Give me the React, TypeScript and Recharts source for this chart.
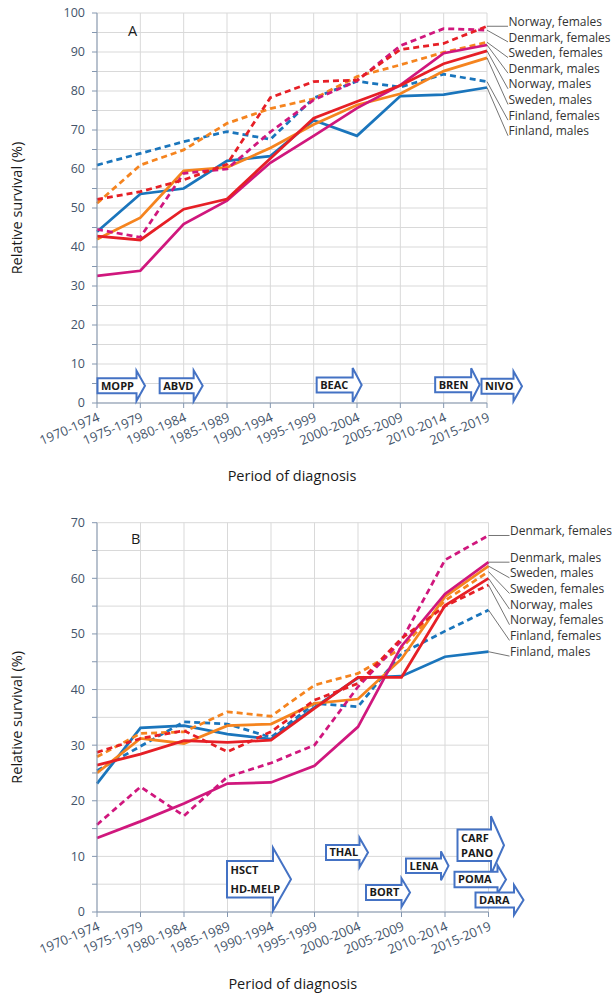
import { LineChart, Line, XAxis, YAxis, CartesianGrid, ReferenceDot } from 'recharts'

const periods = [
  '1970-1974', '1975-1979', '1980-1984', '1985-1989', '1990-1994',
  '1995-1999', '2000-2004', '2005-2009', '2010-2014', '2015-2019',
]

// Panel A
const aDenmarkMales = [32.6, 33.9, 45.9, 51.9, 61.6, 68.5, 75.6, 81.5, 89.7, 91.8]
const aDenmarkFemales = [44.5, 42.5, 58.9, 60.0, 69.5, 77.7, 82.6, 91.6, 96.0, 95.6]
const aFinlandMales = [43.9, 53.6, 55.0, 62.1, 63.3, 72.5, 68.5, 78.7, 79.1, 80.9]
const aFinlandFemales = [61.0, 64.0, 67.0, 69.6, 67.6, 78.2, 82.5, 81.0, 84.3, 82.4]
const aNorwayMales = [42.8, 41.8, 49.7, 52.3, 62.7, 73.0, 77.3, 81.4, 87.0, 90.3]
const aNorwayFemales = [52.2, 54.2, 57.2, 61.2, 78.3, 82.4, 82.8, 90.6, 92.2, 96.6]
const aSwedenMales = [42.0, 47.5, 59.5, 60.4, 65.4, 71.4, 76.4, 79.3, 85.1, 88.5]
const aSwedenFemales = [51.2, 61.0, 64.9, 71.7, 75.5, 78.0, 83.7, 86.7, 89.9, 92.5]
const aTicks = [0, 5, 10, 15, 20, 25, 30, 35, 40, 45, 50, 55, 60, 65, 70, 75, 80, 85, 90, 95, 100]

// Panel B
const bDenmarkMales = [13.3, 16.3, 19.5, 23.1, 23.3, 26.3, 33.3, 47.8, 57.2, 62.9]
const bDenmarkFemales = [15.7, 22.5, 17.3, 24.3, 26.8, 30.0, 40.5, 48.8, 63.3, 67.7]
const bFinlandMales = [23.1, 33.1, 33.5, 32.0, 31.1, 36.8, 42.1, 42.4, 45.9, 46.8]
const bFinlandFemales = [25.4, 29.8, 34.2, 33.8, 31.4, 37.5, 36.9, 46.5, 50.5, 54.3]
const bNorwayMales = [26.4, 28.4, 30.8, 30.5, 30.9, 36.6, 42.2, 42.2, 55.1, 60.0]
const bNorwayFemales = [28.7, 31.2, 32.6, 28.8, 32.4, 38.1, 41.1, 49.2, 55.0, 58.8]
const bSwedenMales = [25.0, 31.2, 30.3, 33.5, 33.8, 37.5, 38.3, 45.5, 56.7, 62.2]
const bSwedenFemales = [27.9, 32.1, 32.4, 36.0, 35.2, 40.8, 42.9, 47.4, 56.0, 61.2]
const bTicks = [0, 5, 10, 15, 20, 25, 30, 35, 40, 45, 50, 55, 60, 65, 70]

const W = 612
const H = 498
const AXIS = '#8497b0'
const TICK = '#44546a'
const GRID = '#d9d9d9'
const ARROW = '#4472c4'

const SERIES = [
  { key: 'fiM', name: 'Finland, males', color: '#1a75bc', dashed: false },
  { key: 'fiF', name: 'Finland, females', color: '#1a75bc', dashed: true },
  { key: 'seM', name: 'Sweden, males', color: '#f5841f', dashed: false },
  { key: 'seF', name: 'Sweden, females', color: '#f5841f', dashed: true },
  { key: 'dkM', name: 'Denmark, males', color: '#d0177d', dashed: false },
  { key: 'dkF', name: 'Denmark, females', color: '#d0177d', dashed: true },
  { key: 'noM', name: 'Norway, males', color: '#e61f26', dashed: false },
  { key: 'noF', name: 'Norway, females', color: '#e61f26', dashed: true },
]

const aValues: Record<string, number[]> = {
  dkM: aDenmarkMales, dkF: aDenmarkFemales, fiM: aFinlandMales, fiF: aFinlandFemales,
  noM: aNorwayMales, noF: aNorwayFemales, seM: aSwedenMales, seF: aSwedenFemales,
}
const bValues: Record<string, number[]> = {
  dkM: bDenmarkMales, dkF: bDenmarkFemales, fiM: bFinlandMales, fiF: bFinlandFemales,
  noM: bNorwayMales, noF: bNorwayFemales, seM: bSwedenMales, seF: bSwedenFemales,
}

// treatment arrows: anchored to a period + y value, drawn in px around that anchor
type Arrow = { lines: string[]; at: string; y: number; dx: number; w: number; bh: number; hh: number; hl: number; gap?: number }

const aArrows: Arrow[] = [
  { lines: ['MOPP'], at: '1970-1974', y: 4.4, dx: 0.5, w: 39, bh: 15, hh: 30, hl: 8.5 },
  { lines: ['ABVD'], at: '1980-1984', y: 4.4, dx: -24, w: 34, bh: 15, hh: 31, hl: 9 },
  { lines: ['BEAC'], at: '1995-1999', y: 4.6, dx: 3, w: 36, bh: 15, hh: 34, hl: 9 },
  { lines: ['BREN'], at: '2010-2014', y: 4.7, dx: -8.5, w: 36, bh: 15, hh: 33, hl: 8.5 },
  { lines: ['NIVO'], at: '2015-2019', y: 4.3, dx: -5.5, w: 32, bh: 15, hh: 30, hl: 8.5 },
]

const bArrows: Arrow[] = [
  { lines: ['HSCT', 'HD-MELP'], at: '1985-1989', y: 5.9, dx: -0.5, w: 46, bh: 36.5, hh: 63, hl: 18, gap: 19 },
  { lines: ['THAL'], at: '1995-1999', y: 10.7, dx: 11.5, w: 33.5, bh: 15, hh: 29.5, hl: 8.5 },
  { lines: ['BORT'], at: '2005-2009', y: 3.5, dx: -35.5, w: 35.5, bh: 15, hh: 28.5, hl: 8.5 },
  { lines: ['LENA'], at: '2005-2009', y: 8.3, dx: 4.5, w: 35, bh: 14.5, hh: 29, hl: 7.5 },
  { lines: ['CARF', 'PANO'], at: '2010-2014', y: 12.0, dx: 12.5, w: 33.5, bh: 31.5, hh: 58, hl: 13, gap: 15 },
  { lines: ['POMA'], at: '2010-2014', y: 5.85, dx: 9.5, w: 43, bh: 15.5, hh: 28.5, hl: 8.5 },
  { lines: ['DARA'], at: '2015-2019', y: 2.15, dx: -13, w: 38.5, bh: 15, hh: 30, hl: 9.5 },
]

function arrowShape(a: Arrow) {
  return (props: any) => {
    const { cx, cy } = props
    if (cx == null || cy == null) return <g />
    const x0 = cx + a.dx
    const x1 = x0 + a.w
    const d = [
      `M${x0},${cy - a.bh / 2}`, `L${x1},${cy - a.bh / 2}`, `L${x1},${cy - a.hh / 2}`,
      `L${x1 + a.hl},${cy}`, `L${x1},${cy + a.hh / 2}`, `L${x1},${cy + a.bh / 2}`,
      `L${x0},${cy + a.bh / 2}`, 'Z',
    ].join(' ')
    const gap = a.gap ?? 0
    const start = cy - ((a.lines.length - 1) * gap) / 2
    return (
      <g>
        <path d={d} fill="#fff" stroke={ARROW} strokeWidth={2} strokeLinejoin="miter" />
        {a.lines.map((t, i) => (
          <text key={t} x={x0 + 3.5} y={start + i * gap} dy="0.36em" fontSize={11} fontWeight={700} fill="#1a1a1a">
            {t}
          </text>
        ))}
      </g>
    )
  }
}

interface PanelProps {
  letter: string
  values: Record<string, number[]>
  yMax: number
  ticks: number[]
  top: number
  right: number
  axisHeight: number
  titleOffset: number
  arrows: Arrow[]
}

function Panel({ letter, values, yMax, ticks, top, right, axisHeight, titleOffset, arrows }: PanelProps) {
  const data = periods.map((p, i) => {
    const row: Record<string, string | number> = { period: p }
    SERIES.forEach((s) => { row[s.key] = values[s.key][i] })
    return row
  })

  // end-label stacking, like the callouts in the original
  const last = periods.length - 1
  const plotBottom = H - axisHeight
  const pxPerUnit = (plotBottom - top) / yMax
  const order = [...SERIES].sort((a, b) => values[b.key][last] - values[a.key][last])
  const slots: Record<string, number> = {}
  let prev = -Infinity
  order.forEach((s) => {
    const want = plotBottom - values[s.key][last] * pxPerUnit - 4.7
    const slot = Math.max(want, prev + 15.65)
    slots[s.key] = slot
    prev = slot
  })

  return (
    <div style={{ position: 'relative', width: W, height: H }}>
      <LineChart width={W} height={H} data={data} margin={{ top, right, bottom: 0, left: 0 }}>
        <CartesianGrid stroke={GRID} strokeWidth={1} />
        <XAxis
          dataKey="period"
          interval={0}
          height={axisHeight}
          angle={-23}
          textAnchor="end"
          tickSize={5}
          tickMargin={4}
          stroke={AXIS}
          tick={{ fill: TICK, fontSize: 13 }}
          label={{ value: 'Period of diagnosis', position: 'insideBottom', offset: titleOffset, style: { fill: '#1a1a1a', fontSize: 14.5 } }}
        />
        <YAxis
          type="number"
          domain={[0, yMax]}
          ticks={ticks}
          interval={0}
          width={97}
          tickSize={5}
          tickMargin={7}
          stroke={AXIS}
          tick={{ fill: TICK, fontSize: 12.5 }}
          tickFormatter={(v: number) => (v % 10 === 0 ? String(v) : '')}
          label={{ value: 'Relative survival (%)', angle: -90, position: 'insideLeft', offset: 17, style: { textAnchor: 'middle', fill: '#1a1a1a', fontSize: 14.5 } }}
        />
        {SERIES.map((s) => (
          <Line
            key={s.key}
            type="linear"
            dataKey={s.key}
            stroke={s.color}
            strokeWidth={2.75}
            strokeDasharray={s.dashed ? '6 4' : undefined}
            dot={false}
            activeDot={false}
            isAnimationActive={false}
          />
        ))}
        {SERIES.map((s) => (
          <ReferenceDot
            key={`lbl-${s.key}`}
            x={periods[last]}
            y={values[s.key][last]}
            r={0}
            shape={(props: any) => {
              const { cx, cy } = props
              if (cx == null || cy == null) return <g />
              const lx = cx + 21
              const sy = slots[s.key]
              return (
                <g>
                  <line x1={cx} y1={cy} x2={lx} y2={sy + 4.7} stroke="#505050" strokeWidth={0.8} />
                  <text x={lx + 0.5} y={sy} dy="0.36em" fontSize={12} fill="#333">{s.name}</text>
                </g>
              )
            }}
          />
        ))}
        {arrows.map((a) => (
          <ReferenceDot key={a.lines.join('-')} x={a.at} y={a.y} r={0} shape={arrowShape(a)} />
        ))}
      </LineChart>
      <div style={{ position: 'absolute', left: letter === 'A' ? 128 : 131, top: letter === 'A' ? 21 : 31, fontSize: 14.5, lineHeight: '20px', color: '#1a1a1a' }}>
        {letter}
      </div>
    </div>
  )
}

export default function App() {
  return (
    <div style={{ position: 'absolute', left: 0, top: 0, width: W, height: 996, background: '#fff', fontFamily: "'Open Sans', sans-serif" }}>
      <Panel letter="A" values={aValues} yMax={100} ticks={aTicks} top={13} right={125} axisHeight={95} titleOffset={17.5} arrows={aArrows} />
      <Panel letter="B" values={bValues} yMax={70} ticks={bTicks} top={24.7} right={123.5} axisHeight={84} titleOffset={7} arrows={bArrows} />
    </div>
  )
}
